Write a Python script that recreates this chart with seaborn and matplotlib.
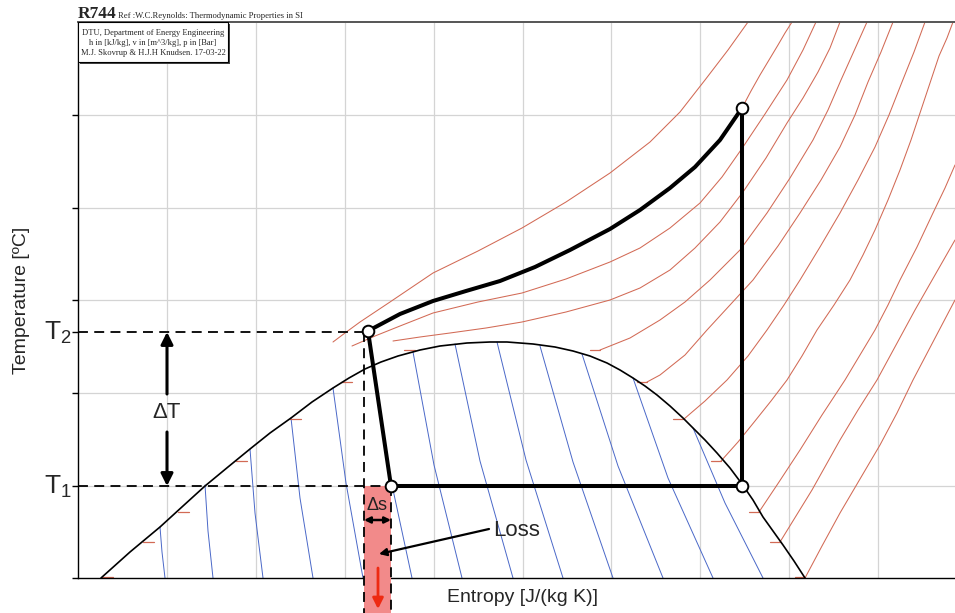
import numpy as np
import pandas as pd
import matplotlib
matplotlib.use("Agg")
import matplotlib.pyplot as plt
import seaborn as sns
from matplotlib.patches import Rectangle

# ---------------- data (entropy s / temperature T in chart units) ----------------
S_MIN, S_MAX = 78, 955
T_MIN, T_MAX = 578, 22          # bottom / top of the diagram
S_GRID = [167, 256, 345, 434, 523, 611, 700, 789, 878]
T_GRID = [115, 208, 300, 393, 486]

# saturation dome
DOME_S = [101, 130, 160, 183, 205, 228, 250, 270, 291, 312, 333, 349, 365, 381, 398,
          420, 440, 467, 490, 507, 533, 555, 573, 590, 607, 620, 633, 645, 657, 670,
          683, 693, 705, 717, 730, 742, 753, 763, 773, 783, 794, 805]
DOME_T = [578, 552, 527, 506, 486, 467, 449, 433, 418, 402, 388, 378, 369, 362, 356,
          350, 346, 343, 342, 342, 344, 347, 351, 356, 363, 370, 378, 386, 395, 406,
          418, 428, 440, 453, 468, 484, 500, 517, 531, 545, 561, 578]

# constant-quality lines inside the dome (top on dome, mid, bottom on axis)
Q_TOP_S = [160, 205, 250, 291, 333, 372, 413, 455, 497, 540, 582, 633, 693]
Q_TOP_T = [527, 485, 449, 418, 388, 364, 352, 344, 342, 346, 354, 378, 428]
Q_MID_S = [162, 208, 255, 300, 346, 389, 434, 480, 526, 573, 618, 668, 725]
Q_MID_T = [552, 531, 513, 498, 483, 471, 465, 461, 460, 462, 466, 478, 503]
Q_BOT_S = [165, 213, 263, 313, 363, 412, 462, 513, 563, 613, 663, 713, 763]

# isobars (superheated / supercritical region)
ISO_S = [
    [333, 345, 360, 390, 433, 478, 522, 566, 610, 650, 680, 705, 728, 748],
    [352, 375, 400, 433, 478, 522, 566, 610, 640, 670, 700, 722, 743, 765, 787, 803, 816],
    [393, 420, 450, 486, 522, 566, 610, 640, 670, 695, 720, 743, 766, 787, 803, 818, 830, 840],
    [600, 630, 660, 685, 710, 740, 767, 790, 813, 828, 841, 854, 867],
    [647, 660, 685, 707, 730, 753, 778, 800, 821, 840, 855, 868, 881, 893],
    [684, 705, 727, 748, 767, 784, 800, 820, 840, 858, 875, 889, 902, 914, 925],
    [721, 738, 755, 771, 787, 802, 817, 834, 850, 863, 875, 888, 900, 911, 921, 930, 939, 947, 953],
    [759, 779, 800, 822, 845, 860, 875, 888, 900, 917, 933, 945, 955],
    [780, 796, 812, 826, 840, 858, 877, 896, 915, 935, 955],
    [805, 822, 840, 860, 880, 897, 913, 934, 955],
    [742, 751, 760, 769, 778, 785, 792],
]
ISO_T = [
    [342, 333, 322, 302, 273, 251, 228, 202, 173, 142, 112, 80, 50, 22],
    [346, 336, 326, 313, 302, 293, 279, 262, 248, 228, 203, 177, 147, 114, 80, 50, 22],
    [341, 337, 333, 328, 322, 312, 300, 288, 270, 248, 222, 192, 158, 123, 98, 72, 48, 22],
    [350, 338, 320, 302, 280, 250, 213, 178, 140, 110, 80, 51, 22],
    [382, 375, 355, 330, 305, 280, 246, 213, 180, 147, 115, 82, 52, 22],
    [419, 401, 380, 356, 330, 305, 280, 247, 213, 180, 147, 115, 82, 52, 22],
    [461, 442, 421, 401, 380, 356, 330, 305, 280, 255, 230, 200, 170, 140, 110, 83, 56, 38, 22],
    [512, 482, 450, 415, 380, 355, 330, 305, 280, 247, 213, 188, 165],
    [542, 516, 490, 465, 440, 410, 380, 345, 310, 275, 240],
    [578, 546, 513, 479, 445, 413, 380, 340, 300],
    [108, 91, 75, 60, 45, 33, 22],
]
# isobar stubs on the dome
TICK_T = [577, 542, 512, 461, 419, 382, 350]
TICK_LIQ_S = [102, 143, 178, 236, 290, 341, 404]
TICK_VAP_S = [805, 780, 759, 721, 683, 647, 600]

# refrigeration cycle
CYC_S = [368, 391, 742, 742]
CYC_T = [331, 486, 486, 108]
COOL_S = [368, 400, 433, 466, 500, 535, 570, 610, 640, 670, 695, 720, 742]
COOL_T = [331, 314, 301, 291, 281, 267, 250, 229, 210, 188, 167, 140, 108]
T2, T1 = 332, 486
S_DASH_L = 364


def frame(s_lists, t_lists):
    rows = []
    for k, (ss, tt) in enumerate(zip(s_lists, t_lists)):
        for a, b in zip(ss, tt):
            rows.append((k, a, b))
    return pd.DataFrame(rows, columns=["line", "s", "T"])


# ---------------- figure ----------------
sns.set_theme(style="white")
plt.rcParams["font.family"] = ["Liberation Sans", "DejaVu Sans"]
plt.rcParams["mathtext.fontset"] = "custom"
plt.rcParams["mathtext.rm"] = "Liberation Sans"
plt.rcParams["mathtext.it"] = "Liberation Sans:italic"

fig = plt.figure(figsize=(9.55, 6.13), dpi=100)
fig.patch.set_facecolor("white")
ax = fig.add_axes([78 / 955, 35 / 613, 877 / 955, 556 / 613])
ax.set_facecolor("white")

# grid
ax.vlines(S_GRID, T_MIN, T_MAX, color="#d4d4d4", lw=0.9, zorder=0)
ax.hlines(T_GRID, S_MIN, S_MAX, color="#d4d4d4", lw=0.9, zorder=0)

# quality lines
q_s = [[a, b, c] for a, b, c in zip(Q_TOP_S, Q_MID_S, Q_BOT_S)]
q_t = [[a, b, T_MIN] for a, b in zip(Q_TOP_T, Q_MID_T)]
sns.lineplot(data=frame(q_s, q_t), x="s", y="T", units="line", estimator=None,
             sort=False, color="#4a68c8", lw=0.7, ax=ax, legend=False, zorder=1)

# isobars
RED = "#d26a55"
sns.lineplot(data=frame(ISO_S, ISO_T), x="s", y="T", units="line", estimator=None,
             sort=False, color=RED, lw=0.75, ax=ax, legend=False, zorder=1)
for t, sl, sv in zip(TICK_T, TICK_LIQ_S, TICK_VAP_S):
    ax.plot([sl, sl + 11], [t, t], color=RED, lw=0.9, zorder=1)
    ax.plot([sv - 10, sv], [t, t], color=RED, lw=0.9, zorder=1)

# dome
sns.lineplot(x=DOME_S, y=DOME_T, sort=False, color="black", lw=1.2, ax=ax, zorder=2)

# dashed helper lines
dash = dict(color="black", lw=1.3, linestyle=(0, (5.5, 3.5)), zorder=3, clip_on=False)
ax.plot([S_MIN, S_DASH_L], [T2, T2], **dash)
ax.plot([S_MIN, CYC_S[1]], [T1, T1], **dash)
ax.plot([S_DASH_L, S_DASH_L], [T2, 613], **dash)
ax.plot([CYC_S[1], CYC_S[1]], [T1, 613], **dash)

# loss rectangle
ax.add_patch(Rectangle((S_DASH_L, T1), CYC_S[1] - S_DASH_L, 613 - T1,
                       facecolor="#f28a8a", edgecolor="none", zorder=2.8, clip_on=False))
ax.annotate("", xy=(378, 609), xytext=(378, 568),
            arrowprops=dict(arrowstyle="-|>", color="#ee2a12", lw=2, mutation_scale=16,
                            shrinkA=0, shrinkB=0), annotation_clip=False, zorder=4)
ax.annotate("", xy=(S_DASH_L, 520), xytext=(CYC_S[1], 520),
            arrowprops=dict(arrowstyle="<|-|>", color="black", lw=1.8, mutation_scale=9,
                            shrinkA=0, shrinkB=0), annotation_clip=False, zorder=4)
ax.text(377, 506, "Δs", ha="center", va="center", fontsize=13, color="#222222", zorder=5)

# cycle
ax.plot(CYC_S, CYC_T, color="black", lw=2.9, zorder=5, solid_capstyle="round",
        solid_joinstyle="round")
ax.plot(COOL_S, COOL_T, color="black", lw=2.9, zorder=5, solid_capstyle="round",
        solid_joinstyle="round")
sns.scatterplot(x=CYC_S, y=CYC_T, s=70, facecolor="white", edgecolor="black",
                linewidth=1.4, ax=ax, zorder=6, legend=False)

# delta T arrows
arw = dict(arrowstyle="-|>", color="black", lw=2.2, mutation_scale=18, shrinkA=0, shrinkB=0)
ax.annotate("", xy=(167, T2), xytext=(167, 394), arrowprops=arw, zorder=4)
ax.annotate("", xy=(167, T1), xytext=(167, 432), arrowprops=arw, zorder=4)
ax.text(167, 413, "ΔT", ha="center", va="center", fontsize=16)

# T labels
ax.text(72, T2 + 1, r"$\mathrm{T_2}$", ha="right", va="center", fontsize=19)
ax.text(72, T1 + 1, r"$\mathrm{T_1}$", ha="right", va="center", fontsize=19)

# loss label
ax.text(493, 530, "Loss", ha="left", va="center", fontsize=16)
ax.annotate("", xy=(379, 554), xytext=(489, 529),
            arrowprops=dict(arrowstyle="-|>", color="black", lw=1.6, mutation_scale=11,
                            shrinkA=0, shrinkB=0), zorder=4)

# header
ax.text(78, 18, "R744", fontfamily=["Liberation Serif"], fontweight="bold", fontsize=12.5,
        ha="left", va="baseline")
ax.text(118, 18, "Ref :W.C.Reynolds: Thermodynamic Properties in SI",
        fontfamily=["Liberation Serif"], fontsize=6.2, ha="left", va="baseline")
ax.add_patch(Rectangle((80, 24), 150, 40, facecolor="#444444", edgecolor="none", zorder=6))
ax.add_patch(Rectangle((78, 22), 150, 40, facecolor="white", edgecolor="black", lw=0.8, zorder=7))
for y, line in zip([33, 43, 53], ["DTU, Department of Energy Engineering",
                                   "h in [kJ/kg], v in [m^3/kg], p in [Bar]",
                                   "M.J. Skovrup & H.J.H Knudsen. 17-03-22"]):
    ax.text(153, y, line, fontfamily=["Liberation Serif"], fontsize=6.1,
            ha="center", va="center", zorder=8)

# axis labels
ax.text(22, 300, "Temperature [ºC]", rotation=90, ha="center", va="center", fontsize=14)
ax.text(522, 598, "Entropy [J/(kg K)]", ha="center", va="center", fontsize=14)

# axes cosmetics
ax.set_xlim(S_MIN, S_MAX)
ax.set_ylim(T_MIN, T_MAX)
ax.set_xticks([])
ax.set_yticks(T_GRID + [T2, T_MIN])
ax.tick_params(axis="y", left=True, length=4, width=1, color="black", labelleft=False,
               direction="out")
ax.set_xlabel("")
ax.set_ylabel("")
ax.grid(False)
for side in ["left", "bottom"]:
    ax.spines[side].set_color("black")
    ax.spines[side].set_linewidth(1.0)
ax.spines["top"].set_color("#555555")
ax.spines["top"].set_linewidth(1.4)
ax.spines["right"].set_visible(False)

fig.savefig("out.png", dpi=100, facecolor="white")
